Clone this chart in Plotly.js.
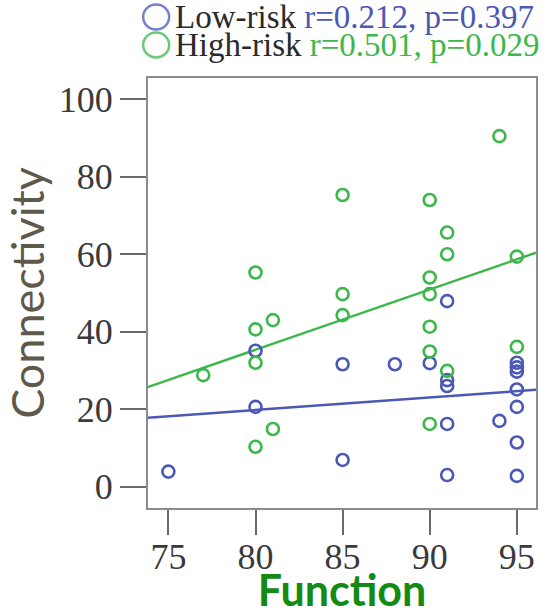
<!DOCTYPE html>
<html>
<head>
<meta charset="utf-8">
<script src="https://cdn.plot.ly/plotly-3.0.1.min.js"></script>
<style>
  html, body { margin: 0; padding: 0; background: #fff; }
  #chart { width: 549px; height: 615px; }
</style>
</head>
<body>
<div id="chart"></div>
<script>
// Function score vs. connectivity, split by risk group
const lowRiskFunction = [75, 80, 80, 85, 85, 88, 90, 91, 91, 91, 91, 91, 94, 95, 95, 95, 95, 95, 95, 95];
const lowRiskConnectivity = [3.9, 35.1, 20.6, 31.6, 6.9, 31.6, 31.9, 47.9, 27.5, 26.0, 16.2, 3.0, 17.0, 32.0, 30.8, 29.7, 25.1, 20.6, 11.4, 2.8];

const highRiskFunction = [77, 80, 80, 80, 80, 81, 81, 85, 85, 85, 90, 90, 90, 90, 90, 90, 91, 91, 91, 94, 95, 95];
const highRiskConnectivity = [28.8, 55.3, 40.6, 32.0, 10.3, 43.0, 14.9, 75.3, 49.7, 44.3, 74.0, 54.0, 49.7, 41.3, 34.9, 16.2, 65.6, 60.0, 29.9, 90.5, 59.4, 36.1];

// Fitted regression lines (end points across the x range)
const fitX = [73.8, 96.1];
const lowRiskFitY = [17.8, 25.0];
const highRiskFitY = [25.7, 60.4];

const xTicks = [75, 80, 85, 90, 95];
const yTicks = [0, 20, 40, 60, 80, 100];

const groupNames = ['Low-risk', 'High-risk'];
const groupStats = ['r=0.212, p=0.397', 'r=0.501, p=0.029'];

const BLUE = '#4b58b4';
const GREEN = '#3cb84b';
const SERIF = '"Liberation Serif", "Times New Roman", Times, serif';
const SANS = 'Lato, "Open Sans", sans-serif';

const traces = [
  { x: fitX, y: lowRiskFitY, mode: 'lines', line: { color: BLUE, width: 2.5 }, showlegend: false, hoverinfo: 'skip' },
  { x: fitX, y: highRiskFitY, mode: 'lines', line: { color: GREEN, width: 2.5 }, showlegend: false, hoverinfo: 'skip' },
  { x: lowRiskFunction, y: lowRiskConnectivity, mode: 'markers', name: groupNames[0],
    marker: { symbol: 'circle-open', size: 12, color: BLUE, line: { width: 2.6, color: BLUE } }, showlegend: false },
  { x: highRiskFunction, y: highRiskConnectivity, mode: 'markers', name: groupNames[1],
    marker: { symbol: 'circle-open', size: 12, color: GREEN, line: { width: 2.6, color: GREEN } }, showlegend: false }
];

// Legend rows drawn above the plot frame
const legendRows = [
  { y: 1.142, color: BLUE },
  { y: 1.077, color: GREEN }
];
const annotations = legendRows.map((row, i) => ({
  xref: 'paper', yref: 'paper', x: 0.068, y: row.y,
  xanchor: 'left', yanchor: 'middle', showarrow: false, borderpad: 0,
  text: groupNames[i] + ' <span style="color:' + row.color + '">' + groupStats[i] + '</span>',
  font: { family: SERIF, size: 33, color: '#2a2a2a' }
}));
const shapes = legendRows.map(row => ({
  type: 'circle', xref: 'paper', yref: 'paper',
  xsizemode: 'pixel', ysizemode: 'pixel',
  xanchor: 0.021, yanchor: row.y,
  x0: -13, x1: 13, y0: -12.5, y1: 12.5,
  line: { color: row.color, width: 2.5 }, opacity: 0.75
}));

const axisCommon = {
  showline: true, mirror: true, linecolor: '#8c8c8c', linewidth: 2,
  showgrid: false, zeroline: false,
  ticks: 'outside', tickwidth: 2, tickcolor: '#6a6a6a',
  tickfont: { family: SERIF, size: 36, color: '#3a3a3a' }
};

const layout = {
  width: 549, height: 615,
  margin: { l: 148, r: 13, t: 78, b: 107 },
  paper_bgcolor: '#fff', plot_bgcolor: '#fff',
  showlegend: false,
  xaxis: Object.assign({}, axisCommon, {
    range: [73.83, 96.1], tickvals: xTicks, ticklen: 25, ticklabelstandoff: -9,
    title: { text: 'Function', standoff: 23,
      font: { family: SANS, size: 43, weight: 700, color: '#128a14' } }
  }),
  yaxis: Object.assign({}, axisCommon, {
    range: [-5.5, 105.5], tickvals: yTicks, ticklen: 26, ticklabelstandoff: 0,
    title: { text: 'Connectivity\u00a0\u00a0\u00a0\u00a0', standoff: 1,
      font: { family: SANS, size: 45, color: '#5f594c' } }
  }),
  annotations: annotations,
  shapes: shapes
};

Plotly.newPlot('chart', traces, layout, { displayModeBar: false, staticPlot: true });
</script>
</body>
</html>
